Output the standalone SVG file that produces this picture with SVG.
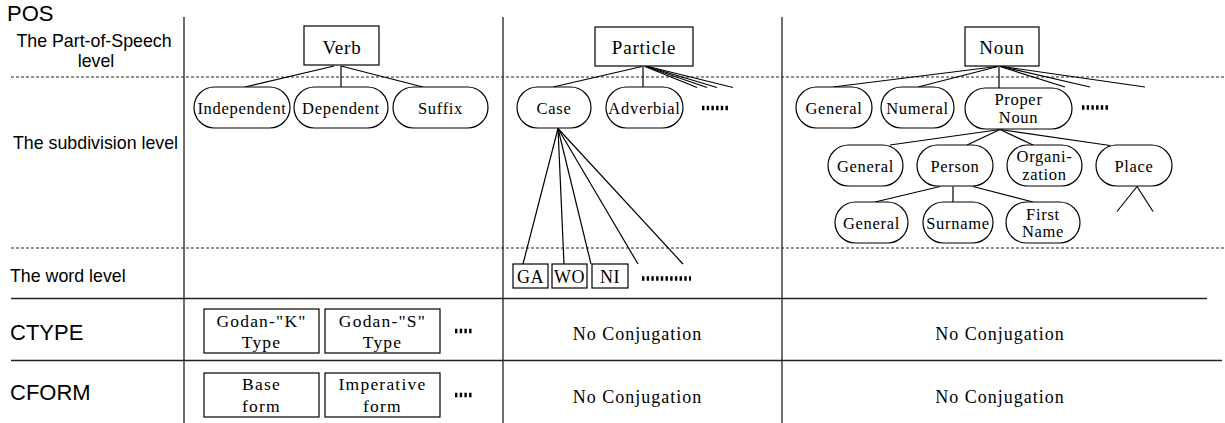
<svg xmlns="http://www.w3.org/2000/svg" width="1225" height="423" viewBox="0 0 1225 423">
<style>
.bg{fill:#fff}
.grid{stroke:#222;stroke-width:1.3;fill:none}
.dash{stroke:#222;stroke-width:1.2;stroke-dasharray:3 2;fill:none}
.node{fill:#fff;stroke:#000;stroke-width:1.2}
.edge{stroke:#000;stroke-width:1.2;fill:none}
.dots{stroke:#000;stroke-width:4.5;stroke-dasharray:2.4 2.3;fill:none}
.lbl{font-family:"Liberation Sans",Arial,sans-serif;font-size:17.8px;fill:#000}
.big{font-size:22px}
.t{font-family:"Liberation Serif","Times New Roman",serif;font-size:16.5px;letter-spacing:0.7px;text-anchor:middle;fill:#000}
.th{font-size:19px;letter-spacing:0.8px}
.tw{font-size:18px;letter-spacing:0.5px}
.tc{font-size:17.5px;letter-spacing:1.2px}
.tn{font-size:18px;letter-spacing:1px}
</style>
<rect class="bg" x="0" y="0" width="1225" height="423"/>

<g id="grid">
<line class="grid" x1="184" y1="17" x2="184" y2="423"/>
<line class="grid" x1="503" y1="17" x2="503" y2="423"/>
<line class="grid" x1="782" y1="17" x2="782" y2="423"/>
<line class="dash" x1="11" y1="77" x2="1225" y2="77"/>
<line class="dash" x1="11" y1="248" x2="1225" y2="248"/>
<line class="grid" x1="11" y1="298.5" x2="1207" y2="298.5"/>
<line class="grid" x1="11" y1="360.5" x2="1222" y2="360.5"/>
</g>

<g id="labels">
<text class="lbl big" x="7" y="21">POS</text>
<text class="lbl" x="94" y="46.5" text-anchor="middle">The Part-of-Speech</text>
<text class="lbl" x="96" y="66.5" text-anchor="middle">level</text>
<text class="lbl" x="13" y="149">The subdivision level</text>
<text class="lbl" x="10" y="282">The word level</text>
<text class="lbl big" x="10" y="339.5">CTYPE</text>
<text class="lbl big" x="10" y="399.5">CFORM</text>
</g>

<g id="connectors">
<line class="edge" x1="334" y1="66" x2="245" y2="87"/>
<line class="edge" x1="341" y1="66" x2="341" y2="87"/>
<line class="edge" x1="341" y1="66" x2="423" y2="87"/>

<line class="edge" x1="642" y1="66.5" x2="553" y2="87"/>
<line class="edge" x1="643" y1="66.5" x2="643" y2="87"/>
<line class="edge" x1="645" y1="66.5" x2="697" y2="87.5"/>
<line class="edge" x1="646" y1="66.5" x2="707" y2="87.5"/>
<line class="edge" x1="647" y1="66.5" x2="717" y2="87.5"/>
<line class="edge" x1="648" y1="66.5" x2="733" y2="87.5"/>

<line class="edge" x1="997" y1="66.5" x2="833" y2="87"/>
<line class="edge" x1="998" y1="66.5" x2="918" y2="87"/>
<line class="edge" x1="999" y1="66.5" x2="999" y2="88"/>
<line class="edge" x1="1000" y1="66.5" x2="1065" y2="87"/>
<line class="edge" x1="1001" y1="66.5" x2="1090" y2="87"/>
<line class="edge" x1="1002" y1="66.5" x2="1145" y2="87"/>

<line class="edge" x1="1000" y1="129.5" x2="890" y2="145"/>
<line class="edge" x1="1000" y1="129.5" x2="967" y2="145"/>
<line class="edge" x1="1000" y1="129.5" x2="1034" y2="145.5"/>
<line class="edge" x1="1000" y1="129.5" x2="1110" y2="145.5"/>

<line class="edge" x1="1137" y1="186.5" x2="1117" y2="211.5"/>
<line class="edge" x1="1137" y1="186.5" x2="1153" y2="211.5"/>

<line class="edge" x1="940" y1="186.5" x2="875" y2="202"/>
<line class="edge" x1="953" y1="186.5" x2="953" y2="202"/>
<line class="edge" x1="973" y1="186.5" x2="1033" y2="202"/>

<line class="edge" x1="558" y1="128.5" x2="523" y2="264"/>
<line class="edge" x1="558" y1="128.5" x2="564" y2="264"/>
<line class="edge" x1="558" y1="128.5" x2="591" y2="264"/>
<line class="edge" x1="558" y1="128.5" x2="638" y2="264"/>
<line class="edge" x1="558" y1="128.5" x2="683" y2="264"/>
</g>

<g id="verb"><rect class="node" x="304" y="26" width="75" height="39"/><text class="t th" x="342" y="54">Verb</text></g>
<g id="particle"><rect class="node" x="595" y="27" width="98" height="39"/><text class="t th" x="644" y="54">Particle</text></g>
<g id="noun"><rect class="node" x="965" y="27" width="74" height="39"/><text class="t th" x="1002" y="54">Noun</text></g>

<g id="v-independent"><rect class="node" x="194" y="87" width="96" height="41" rx="20.5"/><text class="t" x="242" y="113.5">Independent</text></g>
<g id="v-dependent"><rect class="node" x="294" y="87" width="94" height="41" rx="20.5"/><text class="t" x="341" y="113.5">Dependent</text></g>
<g id="v-suffix"><rect class="node" x="393" y="87" width="95" height="41" rx="20.5"/><text class="t" x="440.5" y="113.5">Suffix</text></g>

<g id="p-case"><rect class="node" x="517" y="87" width="74" height="41" rx="20.5"/><text class="t" x="554" y="113.5">Case</text></g>
<g id="p-adverbial"><rect class="node" x="606" y="87" width="77" height="41" rx="20.5"/><text class="t" x="644.5" y="113.5">Adverbial</text></g>
<g id="p-more"><line class="dots" x1="702" y1="108" x2="730" y2="108"/></g>

<g id="n-general"><rect class="node" x="796" y="87" width="76" height="41" rx="20.5"/><text class="t" x="834" y="113.5">General</text></g>
<g id="n-numeral"><rect class="node" x="881" y="87" width="73" height="41" rx="20.5"/><text class="t" x="917.5" y="113.5">Numeral</text></g>
<g id="n-proper"><rect class="node" x="965" y="88" width="107" height="41" rx="20.5"/><text class="t" x="1018.5" y="105">Proper</text><text class="t" x="1018.5" y="123">Noun</text></g>
<g id="n-more"><line class="dots" x1="1082" y1="107.5" x2="1110" y2="107.5"/></g>

<g id="pn-general"><rect class="node" x="828" y="145" width="75" height="41" rx="20.5"/><text class="t" x="865.5" y="171.5">General</text></g>
<g id="pn-person"><rect class="node" x="917" y="145" width="76" height="41" rx="20.5"/><text class="t" x="955" y="171.5">Person</text></g>
<g id="pn-organization"><rect class="node" x="1007" y="145" width="75" height="41" rx="20.5"/><text class="t" x="1044.5" y="161.5">Organi-</text><text class="t" x="1044.5" y="180">zation</text></g>
<g id="pn-place"><rect class="node" x="1096" y="145" width="76" height="41" rx="20.5"/><text class="t" x="1134" y="171.5">Place</text></g>

<g id="ps-general"><rect class="node" x="835" y="202" width="73" height="41" rx="20.5"/><text class="t" x="871.5" y="228.5">General</text></g>
<g id="ps-surname"><rect class="node" x="923" y="202" width="70" height="41" rx="20.5"/><text class="t" x="958" y="228.5">Surname</text></g>
<g id="ps-firstname"><rect class="node" x="1006" y="202" width="74" height="41" rx="20.5"/><text class="t" x="1043" y="220">First</text><text class="t" x="1043" y="237">Name</text></g>

<g id="w-ga"><rect class="node" x="513" y="264" width="35" height="24"/><text class="t tw" x="530.5" y="283">GA</text></g>
<g id="w-wo"><rect class="node" x="552" y="264" width="35" height="24"/><text class="t tw" x="569.5" y="283">WO</text></g>
<g id="w-ni"><rect class="node" x="592" y="264" width="36" height="24"/><text class="t tw" x="610" y="283">NI</text></g>
<g id="w-more"><line class="dots" x1="642" y1="278.5" x2="691" y2="278.5"/></g>

<g id="ct-k"><rect class="node" x="204" y="309" width="115" height="44"/><text class="t tc" x="261.5" y="326.5">Godan-"K"</text><text class="t tc" x="261.5" y="348">Type</text></g>
<g id="ct-s"><rect class="node" x="325" y="309" width="115" height="44"/><text class="t tc" x="382.5" y="326.5">Godan-"S"</text><text class="t tc" x="382.5" y="348">Type</text></g>
<g id="ct-more"><line class="dots" x1="455" y1="331" x2="473" y2="331"/></g>
<g id="ct-particle"><text class="t tn" x="637.5" y="340">No Conjugation</text></g>
<g id="ct-noun"><text class="t tn" x="1000" y="340">No Conjugation</text></g>

<g id="cf-base"><rect class="node" x="204" y="373" width="115" height="44"/><text class="t tc" x="261.5" y="390">Base</text><text class="t tc" x="261.5" y="411.5">form</text></g>
<g id="cf-imperative"><rect class="node" x="325" y="373" width="115" height="44"/><text class="t tc" x="382.5" y="390">Imperative</text><text class="t tc" x="382.5" y="411.5">form</text></g>
<g id="cf-more"><line class="dots" x1="455" y1="395" x2="473" y2="395"/></g>
<g id="cf-particle"><text class="t tn" x="637.5" y="402.5">No Conjugation</text></g>
<g id="cf-noun"><text class="t tn" x="1000" y="402.5">No Conjugation</text></g>
</svg>
